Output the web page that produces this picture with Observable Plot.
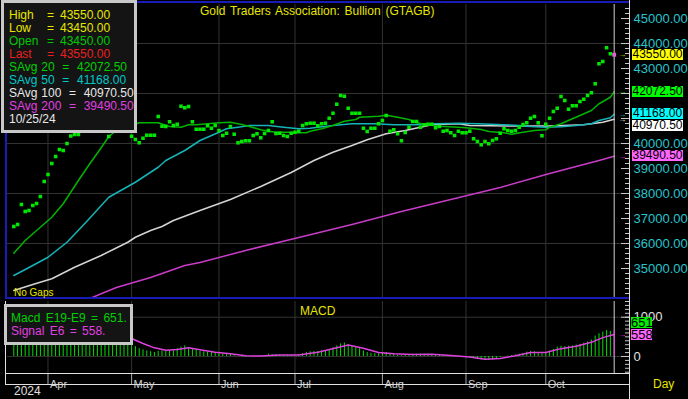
<!DOCTYPE html>
<html><head><meta charset="utf-8">
<script src="https://cdn.jsdelivr.net/npm/d3@7"></script>
<script src="https://cdn.jsdelivr.net/npm/@observablehq/plot@0.6"></script>
<style>
html,body{margin:0;padding:0;background:#000;}
#root{position:relative;width:688px;height:399px;background:#000;overflow:hidden;font-family:"Liberation Sans",Arial,sans-serif;}
#root svg{position:absolute;left:0;}
.t{position:absolute;white-space:pre;line-height:13px;font-size:12px;}
.box{position:absolute;box-sizing:border-box;border:3px solid #c8c8c8;background:#141414;}
.tag{position:absolute;height:11px;line-height:11px;font-size:12px;color:#000;text-align:center;}
.ln{position:absolute;}
</style></head><body><div id="root"></div>
<script>
// ---------------- DATA ----------------
// daily closes (one per trading day, day index 0 = first bar, 158 = 10/25/24)
const closes = [36680,36760,37560,37280,37320,37520,37600,37880,38480,38760,
39200,39480,39760,39720,40000,40300,40360,40360,40800,41300,
41500,41400,41600,41700,41000,40280,40800,40900,40900,40900,
40700,40290,40160,40030,40210,40330,40330,40330,41080,40690,
40680,40870,40720,40770,41490,41430,41480,40870,40570,40570,
40570,40710,40610,40720,40520,40320,40410,40680,40370,40030,
40080,40110,40110,40320,40390,40230,40400,40520,40870,40400,
40410,40320,40280,40410,40450,40490,40720,40790,40810,40810,
40710,40790,40810,41010,41210,41570,41920,41890,41410,41210,
41210,41210,40610,40480,40610,40610,40790,40920,41120,40490,
40550,40390,40110,40440,40650,40880,40880,40650,40750,40770,
40770,40630,40680,40490,40520,40430,40320,40490,40430,40430,
40490,40190,40080,39950,40080,39990,40120,40190,40410,40590,
40520,40490,40520,40650,40760,40830,41010,41080,40830,40310,
40770,41010,41280,41410,41880,41720,41370,41510,41510,41680,
41770,41920,42030,42390,43190,43280,43830,43590,43550];

// moving averages: [day, value]
const sma20 = [[0,35610],[3,36120],[6,36520],[10,37050],[13,37590],[17,38520],[20,39190],[23,39830],[25,40280],[27,40520],[33,40830],[38,40830],[41,40680],[44,40650],[46,40750],[48,40750],[51,40790],[54,40830],[57,40850],[60,40760],[62,40680],[65,40550],[67,40490],[69,40450],[72,40450],[75,40430],[77,40430],[78,40490],[81,40590],[84,40720],[87,40890],[90,40960],[91,41050],[96,41090],[98,41130],[101,41050],[104,40960],[106,40830],[109,40750],[112,40690],[117,40650],[119,40630],[123,40560],[125,40480],[129,40430],[131,40370],[134,40450],[137,40520],[140,40550],[141,40650],[144,40790],[147,40990],[149,41120],[152,41320],[154,41590],[157,41850],[158,42072.5]];
const sma50 = [[0,34720],[5,35120],[9,35450],[14,36050],[19,36850],[25,37850],[32,38450],[38,39050],[40,39320],[45,39720],[49,40120],[54,40450],[56,40590],[59,40650],[62,40720],[67,40720],[71,40650],[75,40590],[78,40610],[80,40650],[84,40720],[89,40790],[95,40790],[100,40750],[106,40750],[111,40790],[117,40810],[122,40790],[132,40730],[136,40680],[140,40650],[144,40670],[148,40720],[152,40790],[154,40920],[157,41030],[158,41168]];
const sma100 = [[0,34120],[5,34360],[10,34590],[16,35050],[23,35520],[30,36050],[32,36250],[36,36520],[39,36680],[42,36920],[49,37320],[57,37760],[65,38280],[73,38840],[79,39320],[84,39650],[89,39920],[93,40150],[98,40390],[103,40520],[107,40650],[110,40750],[117,40790],[120,40720],[132,40700],[141,40700],[150,40750],[155,40850],[158,40970.5]];
const sma200 = [[20,33800],[27,34240],[36,34640],[45,35120],[49,35240],[62,35760],[75,36240],[89,36760],[102,37280],[115,37760],[128,38240],[141,38800],[154,39320],[158,39490.5]];

// MACD (E19-E9) daily values and signal (E6) samples
const macd = [850,880,950,960,970,990,1010,1040,1100,1150,
1200,1240,1270,1260,1260,1260,1240,1210,1200,1200,
1190,1160,1130,1100,1000,880,820,760,700,640,
560,275,250,200,170,140,120,100,130,140,
150,140,140,200,240,270,230,190,160,130,
120,110,100,90,70,60,70,50,20,0,
-10,-20,-10,0,0,10,20,60,50,50,
40,30,30,30,30,40,70,100,120,130,
130,140,150,180,220,270,320,340,300,260,
230,200,140,100,80,70,70,80,100,70,
50,30,20,30,50,60,60,60,60,60,
50,50,40,30,20,10,10,10,0,0,
-20,-50,-80,-90,-100,-100,-90,-60,-20,0,
10,20,40,60,80,110,130,120,70,70,
100,140,180,240,260,250,260,270,290,310,
340,370,420,520,580,620,660,640,651];
const signal = [[0,700],[10,1000],[20,1150],[28,700],[31,458],[34,330],[37,220],[40,160],[43,180],[46,220],[49,170],[53,110],[57,70],[61,20],[65,10],[70,40],[75,40],[80,110],[85,220],[88,290],[92,210],[96,100],[100,70],[105,50],[110,55],[115,25],[120,-10],[124,-70],[128,-50],[132,20],[136,100],[140,100],[144,200],[148,260],[152,360],[155,480],[158,558]];

// axis / labels
const monthLabels = ["Apr","May","Jun","Jul","Aug","Sep","Oct"];
const monthStarts = [9,31,54,74,97,119,140];
const priceTicks = [35000,36000,37000,38000,39000,40000,41000,42000,43000,44000,45000];
const priceGrid = [36000,38000,40000,42000,44000];
const macdTicks = [0,1000];
const yearLabel = "2024";
const title = "Gold Traders Association: Bullion (GTAGB)";
const legendNames = ["High","Low","Open","Last"];
const legendVals = ["43550.00","43450.00","43450.00","43550.00"];
const legendColors = ["#e6e600","#e6e600","#00c800","#e82020"];
const avgNames = ["SAvg 20","SAvg 50","SAvg 100","SAvg 200"];
const avgVals = [42072.5,41168.0,40970.5,39490.5];
const avgColors = ["#00d000","#00c8c8","#e8e8e8","#e040e0"];
const dateLabel = "10/25/24";
const lastPrice = 43550;
const macdLegend = ["Macd E19-E9 = 651.","Signal E6 = 558."];
const macdLast = [651, 558];

// ---------------- RENDER ----------------
const root = document.getElementById("root");
const last = closes.length - 1;
const font = "Liberation Sans, Arial, sans-serif";
const common = {
  width: 688, marginLeft: 7, marginRight: 59,
  style: {background: "transparent", fontFamily: font, fontSize: "13px", overflow: "visible"},
  x: {domain: [-1.658, 162.03], axis: null}
};
const pts = closes.map((v, i) => ({i, v}));
const minorP = d3.range(34000, 45600, 200);
const tagVals = [lastPrice, ...avgVals];
const tagColors = ["#e6e600", ...avgColors];
// axis labels hidden behind the value tags are not drawn (as in the reference)
const visibleTicks = priceTicks.filter(t => !tagVals.some(v => Math.abs(v - t) < 250) && !(t === 41000));

const price = Plot.plot({
  ...common, height: 300, marginTop: 4, marginBottom: 2,
  y: {domain: [33800, 45560], axis: null},
  marks: [
    Plot.ruleY(priceGrid, {stroke: "#333"}),
    Plot.ruleX(monthStarts, {stroke: "#333"}),
    Plot.line(sma200, {x: d => d[0], y: d => d[1], stroke: "#c83cc8", clip: true}),
    Plot.line(sma100, {x: d => d[0], y: d => d[1], stroke: "#d4d4d4", clip: true}),
    Plot.line(sma50, {x: d => d[0], y: d => d[1], stroke: "#14b4b8", clip: true}),
    Plot.line(sma20, {x: d => d[0], y: d => d[1], stroke: "#00b400", clip: true}),
    Plot.dot(pts.slice(0, last), {x: "i", y: "v", symbol: "square", r: 2, fill: "#00e800"}),
    Plot.ruleX([last], {stroke: "#d0d0d0"}),
    Plot.dot(pts.slice(last), {x: "i", y: "v", symbol: "square", r: 2.2, fill: "#e060e0"}),
    Plot.tickY(minorP, {y: d => d, stroke: "#c8c8c8", insetLeft: 618}),
    Plot.tickY(priceTicks, {y: d => d, stroke: "#c8c8c8", insetLeft: 614}),
    Plot.text(visibleTicks, {y: d => d, text: d => d.toFixed(2), frameAnchor: "right", dx: 4, textAnchor: "start", fill: "#28c4cc", fontSize: 13}),
    Plot.text(tagVals, {x: last, y: d => d, text: () => "→", dx: 8, fill: (d, i) => tagColors[i], fontSize: 8})
  ]
});
price.style.top = "0px";
root.appendChild(price);

const minorM = d3.range(-400, 1401, 100);
const macdPlot = Plot.plot({
  ...common, height: 74, marginTop: 1, marginBottom: 1,
  y: {domain: [-433, 1400], axis: null},
  marks: [
    Plot.ruleY(macdTicks, {stroke: "#333"}),
    Plot.ruleX(monthStarts, {stroke: "#333"}),
    Plot.ruleX(macd.map((v, i) => ({i, v})).slice(0, last), {x: "i", y1: 0, y2: "v", stroke: "#00e000"}),
    Plot.line(signal, {x: d => d[0], y: d => d[1], stroke: "#e040e0"}),
    Plot.ruleX([last], {stroke: "#d0d0d0"}),
    Plot.ruleX([{i: last, v: macd[last]}], {x: "i", y1: 0, y2: "v", stroke: "#e040e0"}),
    Plot.tickY(minorM, {y: d => d, stroke: "#c8c8c8", insetLeft: 618}),
    Plot.tickY(macdTicks, {y: d => d, stroke: "#c8c8c8", insetLeft: 614}),
    Plot.text(macdTicks, {y: d => d, text: d => String(d), frameAnchor: "right", dx: 4, textAnchor: "start", fill: "#e0e0e0", fontSize: 13}),
    Plot.text(macdLast.slice(1), {x: last, y: d => d, text: () => "→", dx: 8, fill: "#e040e0", fontSize: 8})
  ]
});
macdPlot.style.top = "300px";
root.appendChild(macdPlot);

const dateAxis = Plot.plot({
  ...common, height: 26, marginTop: 0, marginBottom: 0,
  marks: [
    Plot.ruleX(monthStarts, {stroke: "#a8a8a8", insetBottom: 15}),
    Plot.text(monthLabels, {x: (d, i) => monthStarts[i], text: d => d, frameAnchor: "top", dy: 7, dx: 2, textAnchor: "start", fill: "#d0d0d0", fontSize: 11})
  ]
});
dateAxis.style.top = "373px";
root.appendChild(dateAxis);

// helpers
function div(cls, css, text) {
  const e = document.createElement("div");
  e.className = cls;
  Object.assign(e.style, css);
  if (text != null) e.textContent = text;
  root.appendChild(e);
  return e;
}
// panel borders / lines
div("ln", {left: "5px", top: "1px", width: "624px", height: "2px", background: "#1a1ab8"});
div("ln", {left: "5px", top: "1px", width: "2px", height: "298px", background: "#1a1ab8"});
div("ln", {left: "5px", top: "297px", width: "624px", height: "2px", background: "#1a1ab8"});
div("ln", {left: "629px", top: "0px", width: "1px", height: "399px", background: "#e0e0e0"});
div("ln", {left: "5px", top: "301px", width: "1px", height: "83px", background: "#e0e0e0"});
div("ln", {left: "5px", top: "373px", width: "624px", height: "1px", background: "#e0e0e0"});
div("ln", {left: "5px", top: "384px", width: "624px", height: "1px", background: "#e0e0e0"});

// title & captions
div("t", {left: "200px", top: "5px", color: "#e6e600", wordSpacing: "1.5px"}, title);
div("t", {left: "14px", top: "286px", color: "#e6e600", fontSize: "10px"}, "No Gaps");
div("t", {left: "300px", top: "305px", color: "#e6e600"}, "MACD");
div("t", {left: "14px", top: "385px", color: "#e0e0e0"}, yearLabel);
div("t", {left: "653px", top: "378px", color: "#e6e600"}, "Day");

// price legend
div("box", {left: "1px", top: "0px", width: "136px", height: "133px"});
legendNames.forEach((n, k) => {
  const top = 9 + k * 12.95;
  div("t", {left: "9px", top: top + "px", color: legendColors[k]}, n);
  div("t", {left: "47px", top: top + "px", color: legendColors[k]}, "=");
  div("t", {left: "60px", top: top + "px", color: legendColors[k]}, legendVals[k]);
});
avgNames.forEach((n, k) => {
  const top = 9 + (k + 4) * 12.95;
  div("t", {left: "9px", top: top + "px", color: avgColors[k], wordSpacing: "0.5px"}, n + "  =  " + avgVals[k].toFixed(2));
});
div("t", {left: "9px", top: (9 + 8 * 12.95) + "px", color: "#e8e8e8"}, dateLabel);

// macd legend
div("box", {left: "4px", top: "304px", width: "129px", height: "41px"});
div("t", {left: "11px", top: "312px", color: "#00d000", wordSpacing: "2px"}, macdLegend[0]);
div("t", {left: "11px", top: "325px", color: "#e040e0", wordSpacing: "2px"}, macdLegend[1]);

// value tags on right axis (positions from the plot scales)
const py = price.scale("y");
const tagBg = ["#ffff00", "#00ff00", "#00ffff", "#ffffff", "#ff66ff"];
let prev = -100;
tagVals.forEach((v, k) => {
  let y = py.apply(v);
  if (y < prev + 12) y = prev + 12;
  prev = y;
  div("tag", {left: "632px", top: (y - 5.5) + "px", width: "51px", background: tagBg[k]}, v.toFixed(2));
});
const my = macdPlot.scale("y");
let y2 = 300 + my.apply(macdLast[1]);
let y1 = Math.min(300 + my.apply(macdLast[0]), y2 - 11.5);
div("tag", {left: "631px", top: (y1 - 5.5) + "px", width: "21px", background: "#00ee00", fontSize: "13px"}, String(macdLast[0]));
div("tag", {left: "631px", top: (y2 - 5.5) + "px", width: "21px", background: "#ff66ff", fontSize: "13px"}, String(macdLast[1]));
</script>
</body></html>
